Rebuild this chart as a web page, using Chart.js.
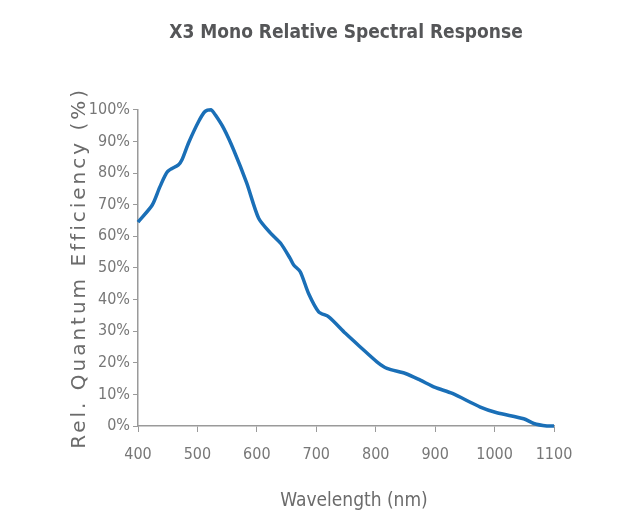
<!DOCTYPE html>
<html>
<head>
<meta charset="utf-8">
<title>X3 Mono Relative Spectral Response</title>
<script src="https://cdn.jsdelivr.net/npm/chart.js@4"></script>
<style>
    html, body { margin: 0; padding: 0; background: #fff; }
    #wrap { width: 627px; height: 515px; }
</style>
</head>
<body>
<div id="wrap"><canvas id="chart" width="627" height="515"></canvas></div>
<script>
// measured response of the X3 mono sensor
const wavelengths = [400, 424, 437, 450, 468, 474, 485, 502, 513, 523, 530, 544, 561, 583, 603, 623,
    640, 656, 662, 673, 687, 704, 721, 749, 774, 802, 819, 850, 875, 900, 929, 976, 1004, 1049, 1066, 1088, 1100];
const efficiency = [64.5, 69.9, 75.7, 80.5, 82.6, 84.2, 89.5, 96.3, 99.5, 100, 98.4, 94.2, 87.3, 76.8, 65.7, 61,
    57.8, 53, 50.9, 48.8, 41.9, 36.1, 34.5, 29.3, 25, 20.3, 18.2, 16.6, 14.5, 12.2, 10.3, 6.0, 4.2, 2.3, 0.8, 0, 0];

const condensed = "'DejaVu Sans Condensed', 'Liberation Sans Narrow', sans-serif";
const axisColor = '#9a9a9a';
const labelColor = '#777777';

const points = wavelengths.map((w, i) => ({x: w, y: efficiency[i]}));

// wraps a scale's title drawing to add letter spacing and a sideways nudge
function styleTitle(spacing, dx) {
    return (scale) => {
        if (scale._titleStyled) return;
        const draw = scale.drawTitle;
        scale.drawTitle = function () {
            const c = this.ctx;
            c.save();
            c.letterSpacing = spacing + 'px';
            c.translate(dx, 0);
            draw.call(this);
            c.restore();
        };
        scale._titleStyled = true;
    };
}

const ctx = document.getElementById('chart').getContext('2d');

const chart = new Chart(ctx, {
    type: 'line',
    data: {
        datasets: [{
            data: points,
            borderColor: '#1a6fb7',
            borderWidth: 3.5,
            pointRadius: 0,
            tension: 0.25,
            clip: 8
        }]
    },
    options: {
        responsive: false,
        animation: false,
        layout: {
            padding: {left: 60, right: 73, top: 0, bottom: 0}
        },
        plugins: {
            legend: {display: false},
            tooltip: {enabled: false},
            title: {
                display: true,
                fullSize: false,
                text: 'X3 Mono Relative Spectral Response',
                color: '#555658',
                font: {family: condensed, size: 19, weight: 'bold'},
                padding: {top: 22, bottom: 65}
            }
        },
        scales: {
            x: {
                type: 'linear',
                min: 400,
                max: 1100,
                ticks: {
                    stepSize: 100,
                    color: labelColor,
                    padding: 13,
                    font: {family: condensed, size: 16},
                    callback: (v) => String(v)
                },
                grid: {display: true, drawOnChartArea: false, drawTicks: true, tickLength: 6, color: axisColor},
                border: {display: true, color: axisColor, width: 1.5},
                title: {
                    display: true,
                    text: 'Wavelength (nm)',
                    color: '#6b6b6b',
                    font: {family: condensed, size: 19},
                    padding: {top: 0, bottom: 3}
                },
                afterFit: (scale) => { scale.height = 89; },
                afterUpdate: styleTitle(0, 8)
            },
            y: {
                min: 0,
                max: 100,
                ticks: {
                    stepSize: 10,
                    color: labelColor,
                    padding: 3,
                    font: {family: condensed, size: 16},
                    callback: (v) => v + '%'
                },
                grid: {display: true, drawOnChartArea: false, drawTicks: true, tickLength: 5, color: axisColor},
                border: {display: true, color: axisColor, width: 1.5},
                title: {
                    display: true,
                    text: 'Rel. Quantum Efficiency (%)',
                    color: '#6b6b6b',
                    font: {family: 'DejaVu Sans', size: 20},
                    padding: {top: 8, bottom: 0}
                },
                afterFit: (scale) => { scale.width = 78; },
                afterUpdate: styleTitle(3, 0)
            }
        }
    }
});
</script>
</body>
</html>
